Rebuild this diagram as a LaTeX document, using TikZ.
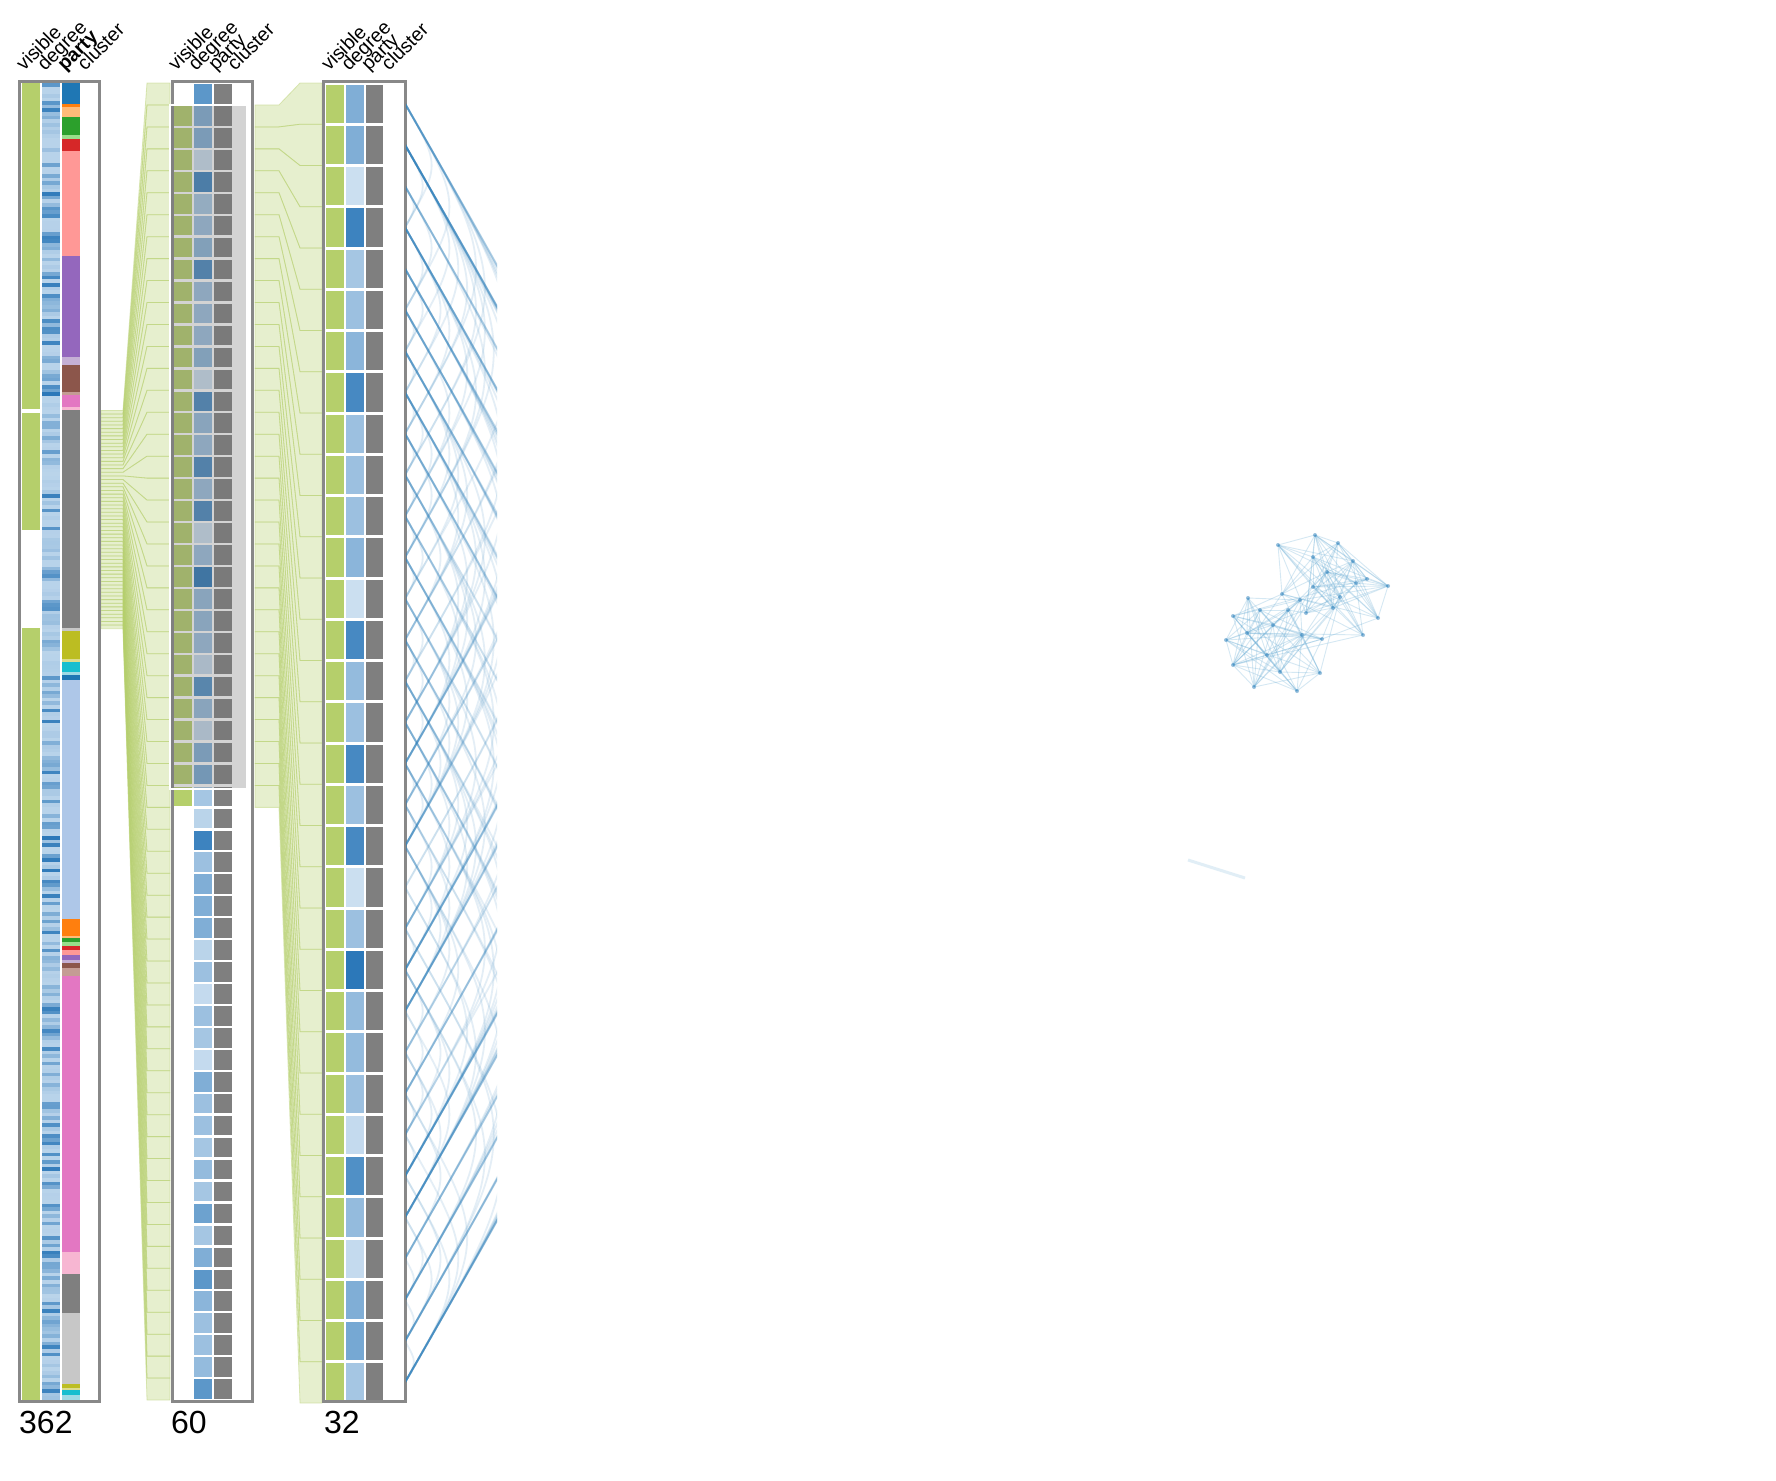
\documentclass[tikz,border=0pt]{standalone}
\usepackage{fontspec}
\setmainfont{Liberation Sans}
\definecolor{visgreen}{HTML}{B5CF6B}
\definecolor{dlow}{HTML}{DEEBF7}
\definecolor{dhigh}{HTML}{2171B5}
\definecolor{pgray}{HTML}{7F7F7F}
\definecolor{boxgray}{HTML}{888888}
\definecolor{arcblue}{HTML}{3182BD}
\definecolor{graphblue}{HTML}{6BAED6}
\definecolor{ovgray}{HTML}{707070}
\definecolor{c1}{HTML}{1F77B4}\definecolor{c2}{HTML}{AEC7E8}
\definecolor{c3}{HTML}{FF7F0E}\definecolor{c4}{HTML}{FFBB78}
\definecolor{c5}{HTML}{2CA02C}\definecolor{c6}{HTML}{98DF8A}
\definecolor{c7}{HTML}{D62728}\definecolor{c8}{HTML}{FF9896}
\definecolor{c9}{HTML}{9467BD}\definecolor{c10}{HTML}{C5B0D5}
\definecolor{c11}{HTML}{8C564B}\definecolor{c12}{HTML}{C49C94}
\definecolor{c13}{HTML}{E377C2}\definecolor{c14}{HTML}{F7B6D2}
\definecolor{c15}{HTML}{7F7F7F}\definecolor{c16}{HTML}{C7C7C7}
\definecolor{c17}{HTML}{BCBD22}\definecolor{c18}{HTML}{DBDB8D}
\definecolor{c19}{HTML}{17BECF}\definecolor{c20}{HTML}{9EDAE5}
\tikzset{
  boxframe/.style={draw=boxgray, line width=3pt},
  band/.style={fill=visgreen, fill opacity=0.33, draw=visgreen, draw opacity=0.45, line width=0.8pt},
  arcedge/.style={draw=arcblue, opacity=0.13, line width=1.8pt},
  gedge/.style={draw=graphblue, opacity=0.28, line width=0.9pt},
  gnode/.style={circle, fill=arcblue, fill opacity=0.5, inner sep=0pt, minimum size=4pt},
  hdr/.style={rotate=45, anchor=base west, inner sep=0pt, font=\fontsize{19.5}{22}\selectfont},
  countlbl/.style={anchor=base west, inner sep=0pt, font=\fontsize{32}{35}\selectfont},
  overlay box/.style={draw=white, line width=2.5pt, fill=ovgray, fill opacity=0.3},
}
\def\dvals{{0.7,0.5,0.5,0.1,0.85,0.3,0.35,0.45,0.8,0.35,0.35,0.35,0.45,0.1,0.8,0.4,0.35,0.8,0.35,0.8,0.1,0.35,0.95,0.4,0.4,0.35,0.15,0.75,0.4,0.15,0.5,0.55,0.3,0.2,0.85,0.35,0.5,0.5,0.5,0.2,0.35,0.15,0.35,0.3,0.15,0.5,0.35,0.35,0.3,0.4,0.3,0.6,0.3,0.5,0.7,0.45,0.35,0.35,0.4,0.7}}
\def\gx{{1278,1315,1338,1313,1353,1367,1388,1356,1313,1333,1378,1363,1340,1327,1306,1282,1248,1288,1233,1322,1302,1247,1226,1267,1233,1280,1320,1254,1297,1273,1300,1260}}
\def\gy{{545,535,543,557,561,579,586,583,587,608,618,635,597,572,613,594,598,610,616,639,635,633,640,655,665,672,673,687,691,625,600,610}}
\begin{document}
\begin{tikzpicture}[x=1pt,y=-1pt]
\useasboundingbox (0,0) rectangle (1776,1480);
\fill[white] (0,0) rectangle (1776,1480);
\pgfmathsetseed{7}

% ---------- bands column 1 -> column 2
\foreach \k in {0,...,59}{
  \pgfmathsetmacro\yl{83+3.638*(90+\k)}
  \pgfmathsetmacro\ylb{\yl+3.638}
  \pgfmathsetmacro\yr{83+21.95*\k}
  \pgfmathsetmacro\yrb{\yr+21.95}
  \path[band] (101,\yl) -- (123,\yl) -- (147,\yr) -- (170,\yr) -- (170,\yrb) -- (147,\yrb) -- (123,\ylb) -- (101,\ylb) -- cycle;
}
% ---------- bands column 2 -> column 3
\foreach \k in {1,...,32}{
  \pgfmathsetmacro\yl{83+21.95*\k}
  \pgfmathsetmacro\ylb{\yl+21.95}
  \pgfmathsetmacro\yr{83+41.25*(\k-1)}
  \pgfmathsetmacro\yrb{\yr+41.25}
  \path[band] (255,\yl) -- (279,\yl) -- (300,\yr) -- (322,\yr) -- (322,\yrb) -- (300,\yrb) -- (279,\ylb) -- (255,\ylb) -- cycle;
}

% ---------- column 1 (362)
\fill[visgreen] (22,83) rectangle (40,409);
\fill[visgreen] (22,413) rectangle (40,530);
\fill[visgreen] (22,628) rectangle (40,1400);
\foreach \k in {0,...,361}{
  \pgfmathsetmacro\ya{83+3.638*\k}
  \pgfmathsetmacro\yb{\ya+3.638}
  \pgfmathsetmacro\r{rnd}
  \pgfmathtruncatemacro\pc{100*(0.2+0.75*\r*\r*\r)}
  \fill[dhigh!\pc!dlow] (42,\ya) rectangle (60,\yb);
}
\foreach \a/\b/\c in {83/104/c1,104/107/c3,107/117/c4,117/135/c5,135/139/c6,139/151/c7,151/256/c8,256/357/c9,357/365/c10,365/392/c11,392/395/c12,395/407/c13,407/410/c14,410/628/c15,628/631/c16,631/659/c17,659/662/c18,662/672/c19,672/675/c20,675/680/c1,680/919/c2,919/936/c3,936/938/c4,938/942/c5,942/946/c6,946/950/c7,950/955/c8,955/960/c9,960/963/c10,963/968/c11,968/976/c12,976/1252/c13,1252/1274/c14,1274/1313/c15,1313/1384/c16,1384/1388/c17,1388/1390/c18,1390/1395/c19,1395/1400/c20}{
  \fill[\c] (62,\a) rectangle (80,\b);
}
\draw[boxframe] (19.5,81.5) rectangle (99.5,1401.5);

% ---------- column 2 (60)
\foreach \k in {0,...,59}{
  \pgfmathsetmacro\ya{83+21.95*\k+1.2}
  \pgfmathsetmacro\yb{83+21.95*(\k+1)-1.2}
  \pgfmathtruncatemacro\pc{100*\dvals[\k]}
  \fill[dhigh!\pc!dlow] (194,\ya) rectangle (212,\yb);
  \fill[pgray] (214,\ya) rectangle (232,\yb);
  \ifnum\k>0 \ifnum\k<33 \fill[visgreen] (174,\ya) rectangle (192,\yb); \fi\fi
}
\draw[boxframe] (172.5,81.5) rectangle (252,1401.5);
\path[overlay box] (170,105) rectangle (247,789);

% ---------- column 3 (32)
\foreach \k in {0,...,31}{
  \pgfmathsetmacro\ya{83+41.25*\k+1.5}
  \pgfmathsetmacro\yb{83+41.25*(\k+1)-1.5}
  \pgfmathtruncatemacro\pc{100*\dvals[\k+1]}
  \fill[visgreen] (326,\ya) rectangle (344,\yb);
  \fill[dhigh!\pc!dlow] (346,\ya) rectangle (364,\yb);
  \fill[pgray] (366,\ya) rectangle (383,\yb);
  \coordinate (r\k) at (405,{83+41.25*(\k+0.5)});
}
\draw[boxframe] (323.5,81.5) rectangle (405,1401.5);

% ---------- arcs
\begin{scope}
\clip (406,0) rectangle (497,1480);
\foreach \i in {0,...,30}{
  \pgfmathtruncatemacro\js{\i+1}
  \foreach \j in {\js,...,31}{
    \pgfmathsetmacro\p{0.08+0.35*(\dvals[\i+1]+\dvals[\j+1])}
    \pgfmathtruncatemacro\ok{(rnd<\p) ? 1 : 0}
    \ifnum\ok=1
      \pgfmathsetmacro\yi{83+41.25*(\i+0.5)}
      \pgfmathsetmacro\yj{83+41.25*(\j+0.5)}
      \pgfmathsetmacro\cx{405+0.287*(\yj-\yi)}
      \pgfmathsetmacro\cy{(\yi+\yj)/2}
      \draw[arcedge] (r\i) .. controls (\cx,\cy) .. (r\j);
    \fi
  }
}
\end{scope}

% ---------- node-link graph
\foreach \k in {0,...,31}{
  \pgfmathsetmacro\xx{\gx[\k]}
  \pgfmathsetmacro\yy{\gy[\k]}
  \coordinate (g\k) at (\xx,\yy);
}
\foreach \i in {0,...,30}{
  \pgfmathtruncatemacro\js{\i+1}
  \foreach \j in {\js,...,31}{
    \pgfmathtruncatemacro\ci{\i/16}
    \pgfmathtruncatemacro\cj{\j/16}
    \ifnum\ci=\cj \def\p{0.62}\else\def\p{0.12}\fi
    \pgfmathtruncatemacro\ok{(rnd<\p) ? 1 : 0}
    \ifnum\ok=1 \draw[gedge] (g\i) -- (g\j); \fi
  }
}
\foreach \k in {0,...,31}{ \node[gnode] (gn\k) at (g\k) {}; }
\coordinate (s1) at (1188,860);
\coordinate (s2) at (1245,878);
\draw[draw=graphblue, opacity=0.2, line width=3pt] (s1) -- (s2);

% ---------- headers
\node[hdr] (h1a) at (24,72) {visible};
\node[hdr] (h1b) at (45,72) {degree};
\node[hdr] (h1c) at (65,72) {\bfseries party};
\node[hdr] (h1d) at (85,72) {cluster};
\node[hdr] (h2a) at (176,72) {visible};
\node[hdr] (h2b) at (196,72) {degree};
\node[hdr] (h2c) at (216,72) {party};
\node[hdr] (h2d) at (235,72) {cluster};
\node[hdr] (h3a) at (329,72) {visible};
\node[hdr] (h3b) at (349,72) {degree};
\node[hdr] (h3c) at (369,72) {party};
\node[hdr] (h3d) at (389,72) {cluster};

% ---------- counts
\node[countlbl] (n1) at (19,1433) {362};
\node[countlbl] (n2) at (171,1433) {60};
\node[countlbl] (n3) at (324,1433) {32};
\end{tikzpicture}
\end{document}
